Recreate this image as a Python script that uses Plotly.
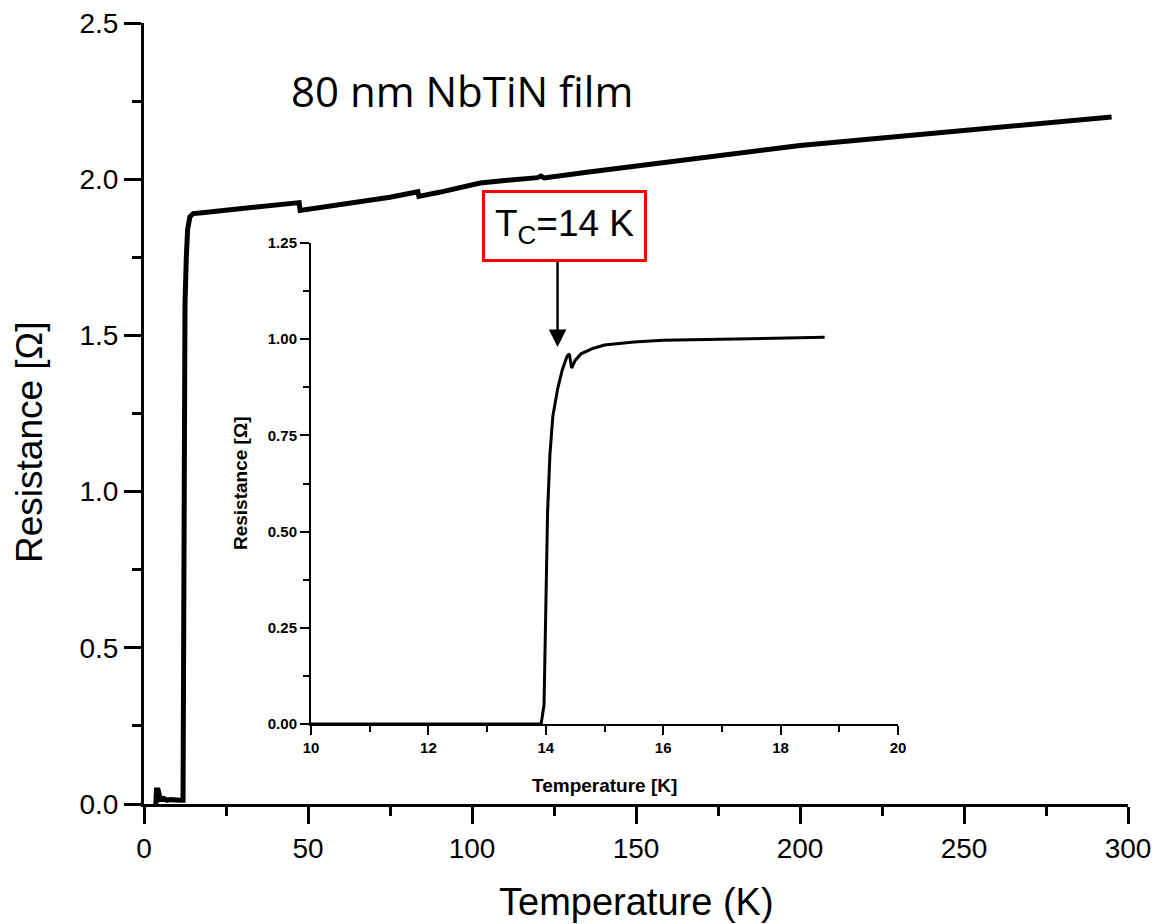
import plotly.graph_objects as go

# Main curve: temperature (K) vs resistance (Ohm)
main_T = [3.6, 3.8, 4.3, 4.6, 5.0, 6.0, 7.0, 8.0, 9.0, 10.0, 11.0, 11.9,
          12.0, 12.2, 12.5, 12.9, 13.3, 14.0, 15.0, 17.0, 20.0, 26.0, 35.0, 41.0, 47.3,
          47.6, 55.0, 65.0, 75.0, 83.5,
          83.8, 90.0, 96.0, 102.5, 110.0, 120.0, 121.0, 122.0, 135.0, 148.0,
          175.0, 194.0, 200.0, 225.0, 250.0, 275.0, 295.0]
main_R = [0.0, 0.045, 0.045, 0.02, 0.015, 0.018, 0.012, 0.014, 0.012, 0.013, 0.012, 0.012,
          0.30, 1.20, 1.60, 1.75, 1.84, 1.88, 1.89, 1.892, 1.895, 1.900, 1.910, 1.918, 1.925,
          1.900, 1.912, 1.925, 1.942, 1.960,
          1.945, 1.958, 1.972, 1.988, 1.996, 2.005, 2.010, 2.004, 2.022, 2.039,
          2.075, 2.103, 2.108, 2.132, 2.157, 2.180, 2.199]

# Inset: zoom around the transition
inset_T = [10.0, 13.92, 13.97, 14.0, 14.03, 14.07, 14.12, 14.2, 14.28, 14.36, 14.4,
           14.44, 14.5, 14.6, 14.8, 15.0, 15.5, 16.0, 17.0, 18.0, 18.75]
inset_R = [0.0, 0.0, 0.05, 0.30, 0.55, 0.70, 0.80, 0.87, 0.92, 0.955, 0.962,
           0.925, 0.945, 0.962, 0.976, 0.985, 0.993, 0.997, 1.000, 1.003, 1.005]

main_xticks = [0, 50, 100, 150, 200, 250, 300]
main_yticks = [0.0, 0.5, 1.0, 1.5, 2.0, 2.5]
inset_xticks = [10, 12, 14, 16, 18, 20]
inset_yticks = [0.0, 0.25, 0.5, 0.75, 1.0, 1.25]

FONT = "Liberation Sans, Arial, sans-serif"

fig = go.Figure()
fig.add_trace(go.Scatter(x=main_T, y=main_R, mode="lines",
                         line=dict(color="black", width=5), xaxis="x", yaxis="y",
                         showlegend=False))
fig.add_trace(go.Scatter(x=inset_T, y=inset_R, mode="lines",
                         line=dict(color="black", width=3), xaxis="x2", yaxis="y2",
                         showlegend=False))

axis_common = dict(showline=True, linecolor="black", showgrid=False, zeroline=False,
                   mirror=False, ticks="outside", tickcolor="black", automargin=False)

fig.update_layout(
    width=1155, height=924,
    margin=dict(l=144, r=27, t=23, b=120, autoexpand=False),
    paper_bgcolor="white", plot_bgcolor="white",
    font=dict(family=FONT, color="black"),
    xaxis=dict(**axis_common, domain=[0, 1], range=[0, 300], anchor="y",
               tickvals=main_xticks, linewidth=3, tickwidth=3, ticklen=17,
               tickfont=dict(size=28, family=FONT),
               minor=dict(dtick=25, tick0=0, ticks="outside", ticklen=9, tickwidth=3,
                          tickcolor="black", showgrid=False)),
    yaxis=dict(**axis_common, domain=[0, 1], range=[0, 2.5], anchor="x",
               tickvals=main_yticks, tickformat=".1f", linewidth=3, tickwidth=3, ticklen=17,
               tickfont=dict(size=28, family=FONT),
               minor=dict(dtick=0.25, tick0=0, ticks="outside", ticklen=9, tickwidth=3,
                          tickcolor="black", showgrid=False)),
    xaxis2=dict(**axis_common, domain=[0.1697, 0.7663], range=[10, 20], anchor="y2",
                tickvals=inset_xticks, linewidth=2, tickwidth=2, ticklen=9,
                tickfont=dict(size=15, family=FONT, weight="bold"),
                minor=dict(dtick=1, tick0=10, ticks="outside", ticklen=6, tickwidth=2,
                           tickcolor="black", showgrid=False)),
    yaxis2=dict(**axis_common, domain=[0.1024, 0.7183], range=[0, 1.25], anchor="x2",
                tickvals=inset_yticks, tickformat=".2f", linewidth=2, tickwidth=2, ticklen=9,
                tickfont=dict(size=15, family=FONT, weight="bold"),
                minor=dict(dtick=0.125, tick0=0, ticks="outside", ticklen=6, tickwidth=2,
                           tickcolor="black", showgrid=False)),
)

annotations = [
    # main axis titles
    dict(text="Temperature (K)", xref="paper", yref="paper", x=0.5, y=-0.1255,
         xanchor="center", yanchor="middle", showarrow=False,
         font=dict(size=38, family=FONT)),
    dict(text="Resistance [Ω]", xref="paper", yref="paper", x=-0.1169, y=0.4635,
         xanchor="center", yanchor="middle", showarrow=False, textangle=-90,
         font=dict(size=37, family=FONT)),
    # inset axis titles
    dict(text="<b>Temperature [K]</b>", xref="paper", yref="paper", x=0.4675, y=0.0243,
         xanchor="center", yanchor="middle", showarrow=False,
         font=dict(size=19, family=FONT)),
    dict(text="<b>Resistance [Ω]</b>", xref="paper", yref="paper", x=0.0976, y=0.411,
         xanchor="center", yanchor="middle", showarrow=False, textangle=-90,
         font=dict(size=19, family=FONT)),
    # film label
    dict(text="80 nm NbTiN film", xref="paper", yref="paper", x=0.3227, y=0.914,
         xanchor="center", yanchor="middle", showarrow=False,
         font=dict(size=42, family="Open Sans, sans-serif")),
    # Tc arrow
    dict(text="", xref="x2", yref="y2", x=14.2, y=0.98, ax=0, ay=-90,
         showarrow=True, arrowhead=2, arrowsize=1.4, arrowwidth=2.5, arrowcolor="black"),
    # Tc box
    dict(text="T<sub>C</sub>=14 K", xref="paper", yref="paper",
         x=(564 - 144) / 984, y=(804 - 226) / 781,
         xanchor="center", yanchor="middle", showarrow=False,
         bordercolor="red", borderwidth=3, borderpad=10, bgcolor="white",
         font=dict(size=37, family=FONT)),
]
fig.update_layout(annotations=annotations)

fig.write_html("out.html")
